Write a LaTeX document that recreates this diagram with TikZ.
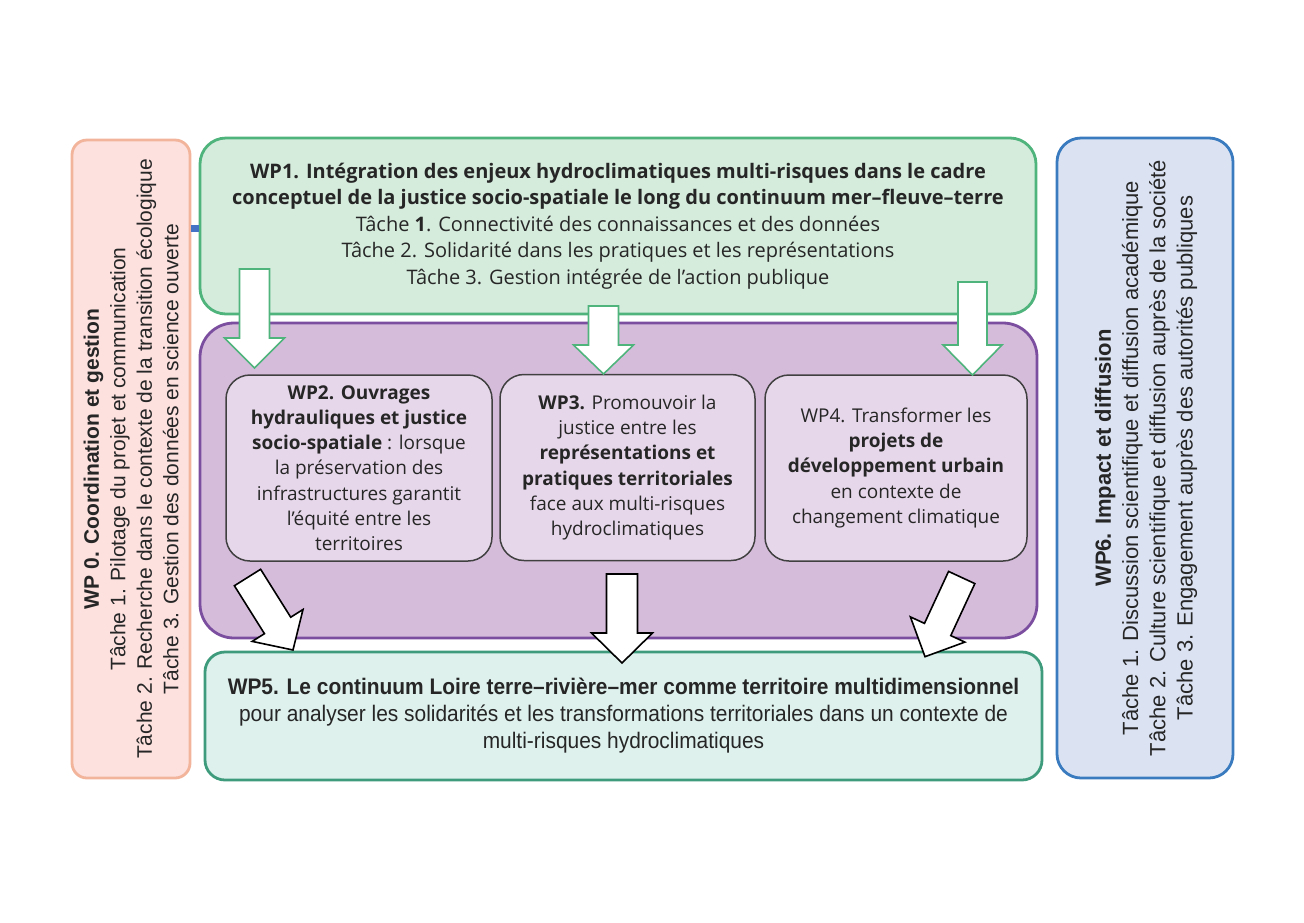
\documentclass[tikz,border=0pt]{standalone}
\usepackage{fontspec}
\setmainfont{Open Sans}
\newfontfamily\arialf{Liberation Sans}
\newfontfamily\condf[FakeStretch=0.93]{Liberation Sans}
\usetikzlibrary{calc}
\definecolor{txt}{HTML}{262626}
\definecolor{pinkfill}{HTML}{FCE1DF}
\definecolor{pinkdraw}{HTML}{F2B49B}
\definecolor{greenfill}{HTML}{D5EBDC}
\definecolor{greendraw}{HTML}{4FB47C}
\definecolor{purplefill}{HTML}{D6BCDB}
\definecolor{purpledraw}{HTML}{7B4E9F}
\definecolor{innerfill}{HTML}{E7D7EA}
\definecolor{innerdraw}{HTML}{404040}
\definecolor{tealfill}{HTML}{DEF1ED}
\definecolor{tealdraw}{HTML}{3E9C7C}
\definecolor{bluefill}{HTML}{DBE3F3}
\definecolor{bluedraw}{HTML}{3A7BBF}
\definecolor{linkblue}{HTML}{4472C4}
\newcommand\blockarrow[6]{%
  \path coordinate (tmpJ) at ($(#3)!#6!(#2)$);
  \draw[#1] ($(#2)!#4!90:(#3)$) -- ($(#2)!#4!-90:(#3)$)
    -- ($(tmpJ)!#4!90:(#2)$) -- ($(tmpJ)!#5!90:(#2)$) -- (#3)
    -- ($(tmpJ)!#5!-90:(#2)$) -- ($(tmpJ)!#4!-90:(#2)$) -- cycle;}
\begin{document}
\begin{tikzpicture}[x=1pt,y=-1pt,
  box/.style={rounded corners=#1, inner sep=0pt, align=center, text=txt},
  outerbox/.style={line width=2.8pt},
  innerbox/.style={box=24pt, draw=innerdraw, fill=innerfill, line width=1.5pt,
     minimum height=186pt, font=\fontsize{19}{25.2}\selectfont},
  greenarrow/.style={draw=greendraw, fill=white, line width=1.6pt, line join=miter},
  blackarrow/.style={draw=black, fill=white, line width=1.6pt, line join=miter}]
\useasboundingbox[fill=white] (0,0) rectangle (1304,922);

% boxes
\node[box=15pt, outerbox, draw=pinkdraw, fill=pinkfill, minimum width=118pt, minimum height=638pt] (wp0) at (131,459) {};
\node[rotate=90, align=center, text=txt, font=\arialf\fontsize{21}{26.5}\selectfont] (wp0t) at (wp0.center)
 {\textbf{WP 0. Coordination et gestion}\\
  Tâche 1. Pilotage du projet et communication\\
  Tâche 2. Recherche dans le contexte de la transition écologique\\
  Tâche 3. Gestion des données en science ouverte};

\node[box=26pt, outerbox, draw=greendraw, fill=greenfill, minimum width=836pt, minimum height=176pt,
  font=\fontsize{20}{26.5}\selectfont] (wp1) at (618,226)
 {\textbf{WP1. Intégration des enjeux hydroclimatiques multi-risques dans le cadre}\\
  \textbf{conceptuel de la justice socio-spatiale le long du continuum mer–fleuve–terre}\\
  Tâche \textbf{1}. Connectivité des connaissances et des données\\
  Tâche 2. Solidarité dans les pratiques et les représentations\\
  Tâche 3. Gestion intégrée de l’action publique};

\node[box=34pt, outerbox, draw=purpledraw, fill=purplefill, minimum width=837pt, minimum height=315pt] (wpp) at (618.5,480.5) {};

\node[innerbox, minimum width=266pt] (wp2) at (359,468)
 {\textbf{WP2. Ouvrages}\\
  \textbf{hydrauliques et justice}\\
  \textbf{socio-spatiale} : lorsque\\
  la préservation des\\
  infrastructures garantit\\
  l’équité entre les\\
  territoires};
\node[innerbox, minimum width=255pt] (wp3) at (627.5,467.5)
 {\textbf{WP3.} Promouvoir la\\
  justice entre les\\
  \textbf{représentations et}\\
  \textbf{pratiques territoriales}\\
  face aux multi-risques\\
  hydroclimatiques};
\node[innerbox, minimum width=262pt] (wp4) at (896,468)
 {WP4. Transformer les\\
  \textbf{projets de}\\
  \textbf{développement urbain}\\
  en contexte de\\
  changement climatique};

\node[box=20pt, outerbox, draw=tealdraw, fill=tealfill, minimum width=837pt, minimum height=128pt,
  font=\condf\fontsize{22.5}{27}\selectfont] (wp5) at (623.5,716)
 {\textbf{WP5. Le continuum Loire terre–rivière–mer comme territoire multidimensionnel}\\
  pour analyser les solidarités et les transformations territoriales dans un contexte de\\
  multi-risques hydroclimatiques};

\node[box=24pt, outerbox, draw=bluedraw, fill=bluefill, minimum width=176pt, minimum height=640pt] (wp6) at (1145,458) {};
\node[rotate=90, align=center, text=txt, font=\arialf\fontsize{22}{27.3}\selectfont] (wp6t) at (1146,458)
 {\textbf{WP6. Impact et diffusion}\\
  Tâche 1. Discussion scientifique et diffusion académique\\
  Tâche 2. Culture scientifique et diffusion auprès de la société\\
  Tâche 3. Engagement auprès des autorités publiques};

% small link between WP0 and WP1
\coordinate (ly) at (0,228);
\draw[linkblue, line width=7pt] (wp0.east |- ly) -- (wp1.west |- ly);

% arrows from WP1 into the WP2-WP4 frame
\coordinate (a1s) at (254.5,269); \coordinate (a1e) at (254.5,368);
\coordinate (a2s) at (603.5,306); \coordinate (a2e) at (603.5,374);
\coordinate (a3s) at (972.5,282); \coordinate (a3e) at (972.5,375);
\blockarrow{greenarrow}{a1s}{a1e}{15pt}{30pt}{30pt}
\blockarrow{greenarrow}{a2s}{a2e}{15pt}{30pt}{29pt}
\blockarrow{greenarrow}{a3s}{a3e}{14.5pt}{29.5pt}{30pt}

% arrows into WP5
\coordinate (b1s) at (247.5,577.5); \coordinate (b1e) at (293,650);
\coordinate (b2s) at (622,574); \coordinate (b2e) at (622,663);
\coordinate (b3s) at (961.7,577.5); \coordinate (b3e) at (925,656.7);
\blockarrow{blackarrow}{b1s}{b1e}{15.5pt}{30pt}{29pt}
\blockarrow{blackarrow}{b2s}{b2e}{15.5pt}{30.5pt}{30pt}
\blockarrow{blackarrow}{b3s}{b3e}{14.5pt}{30pt}{30pt}
\end{tikzpicture}
\end{document}
